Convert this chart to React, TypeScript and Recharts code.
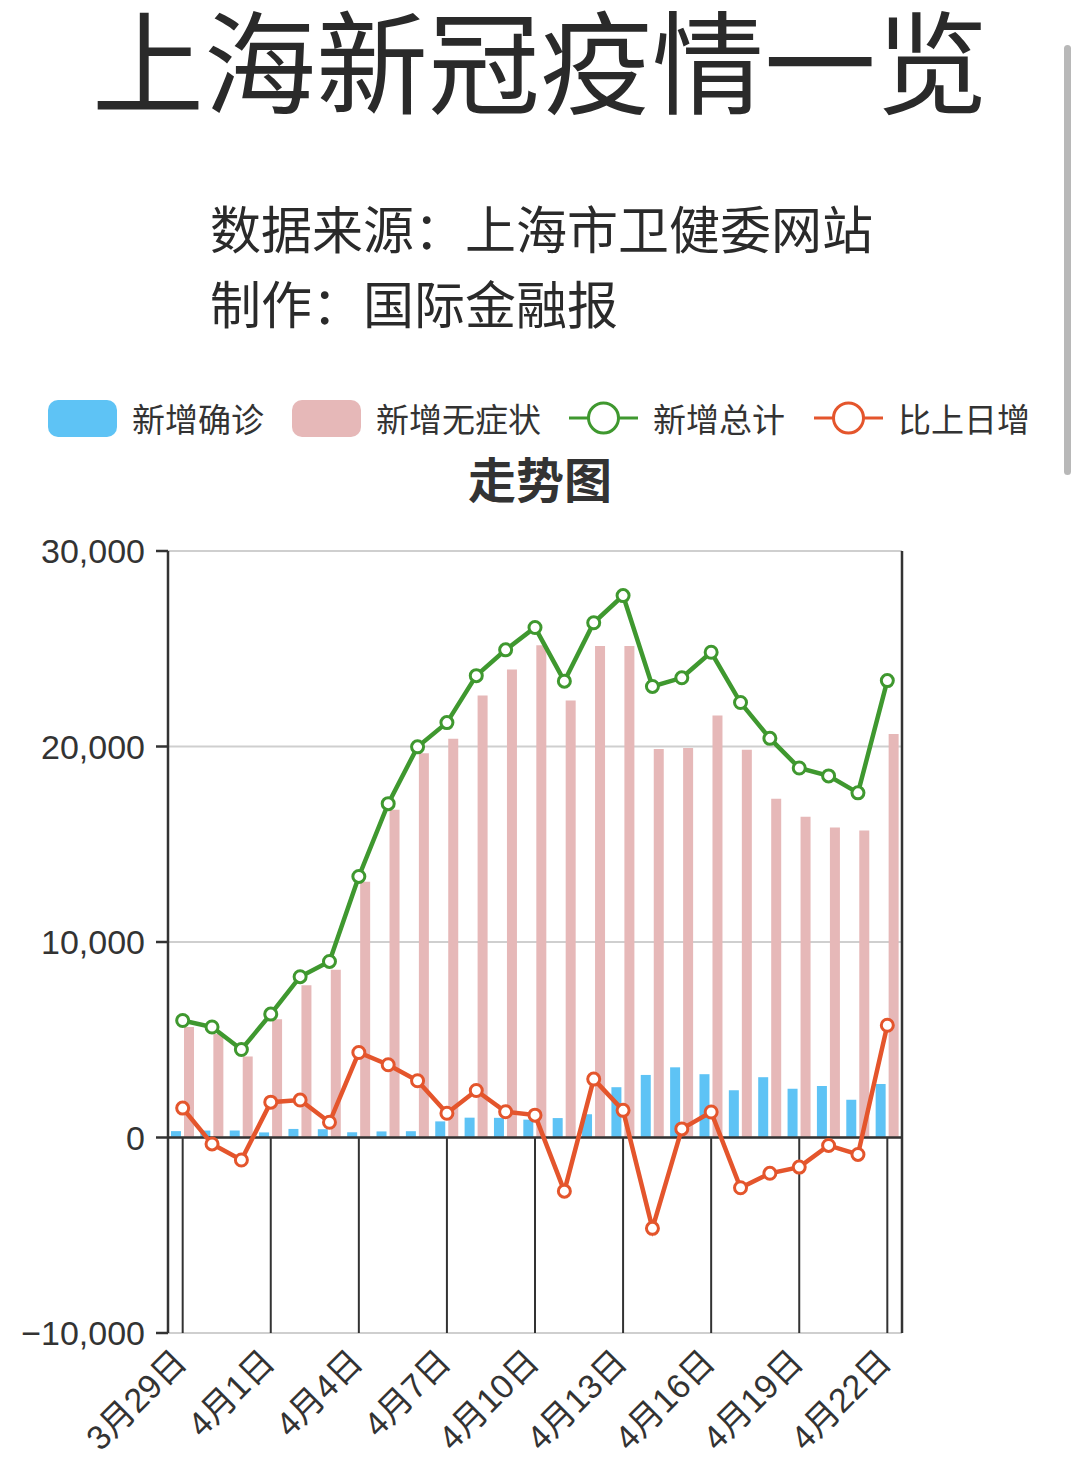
import React from 'react';
import { ComposedChart, Bar, Line, XAxis, YAxis, CartesianGrid, ReferenceLine } from 'recharts';

const dates = ['3月29日', '3月30日', '3月31日', '4月1日', '4月2日', '4月3日', '4月4日', '4月5日', '4月6日', '4月7日', '4月8日', '4月9日', '4月10日', '4月11日', '4月12日', '4月13日', '4月14日', '4月15日', '4月16日', '4月17日', '4月18日', '4月19日', '4月20日', '4月21日', '4月22日'];
const confirmed = [326, 355, 358, 260, 438, 425, 268, 311, 322, 824, 1015, 1006, 914, 994, 1189, 2573, 3200, 3590, 3238, 2417, 3084, 2494, 2634, 1931, 2736];
const asymptomatic = [5656, 5298, 4144, 6051, 7788, 8581, 13086, 16766, 19660, 20398, 22609, 23937, 25173, 22348, 25141, 25146, 19872, 19923, 21582, 19831, 17332, 16407, 15861, 15698, 20634];
const totals = [5982, 5653, 4502, 6311, 8226, 9006, 13354, 17077, 19982, 21222, 23624, 24943, 26087, 23342, 26330, 27719, 23072, 23513, 24820, 22248, 20416, 18901, 18495, 17629, 23370];
const changes = [1505, -329, -1151, 1809, 1915, 780, 4348, 3723, 2905, 1240, 2402, 1319, 1144, -2745, 2988, 1389, -4647, 441, 1307, -2572, -1832, -1515, -406, -866, 5741];
const yTicks = [-10000, 0, 10000, 20000, 30000];
const seriesNames = ['新增确诊', '新增无症状', '新增总计', '比上日增'];

const BLUE = '#5ec3f5';
const PINK = '#e6b8b8';
const GREEN = '#3f982f';
const RED = '#e4552c';
const INK = '#333333';
const CJK = "'Noto Sans CJK SC', 'Noto Sans', sans-serif";
const NUM = "'Liberation Sans', 'Noto Sans CJK SC', sans-serif";

const data = dates.map((d, i) => ({
  date: d,
  confirmed: confirmed[i],
  asymptomatic: asymptomatic[i],
  total: totals[i],
  change: changes[i],
}));

const markedDates = dates.filter((_, i) => i % 3 === 0);

const fmt = (v: number) => {
  const s = Math.abs(v).toLocaleString('en-US');
  return v < 0 ? '\u2212' + s : s;
};

const XTick = (props: any) => {
  const { x, y, payload } = props;
  const tx = x + 6;
  const ty = y + 31;
  return (
    <text
      x={tx}
      y={ty}
      transform={`rotate(-45, ${tx}, ${ty})`}
      textAnchor="end"
      fontSize={34}
      fill={INK}
      fontFamily={NUM}
    >
      {payload.value}
    </text>
  );
};

const LegendItem = ({ left, kind, color, label }: { left: number; kind: 'rect' | 'line'; color: string; label: string }) => (
  <div style={{ position: 'absolute', left, top: 398, height: 40, display: 'flex', alignItems: 'center' }}>
    <svg width={69} height={40} style={{ display: 'block' }}>
      {kind === 'rect' ? (
        <rect x={0} y={2} width={69} height={37} rx={10} ry={10} fill={color} />
      ) : (
        <g>
          <line x1={0} y1={20} x2={69} y2={20} stroke={color} strokeWidth={3} />
          <circle cx={34.5} cy={20} r={15} fill="#fff" stroke={color} strokeWidth={3} />
        </g>
      )}
    </svg>
    <span style={{ marginLeft: 15, fontSize: 33, color: INK, fontFamily: CJK, lineHeight: '40px', whiteSpace: 'nowrap' }}>{label}</span>
  </div>
);

export default function App() {
  return (
    <div style={{ position: 'absolute', left: 0, top: 0, width: 1080, height: 1471, background: '#fff', overflow: 'hidden' }}>
      <div style={{ position: 'absolute', left: 0, top: 1, width: 1080, textAlign: 'center', fontSize: 112, lineHeight: '112px', fontFamily: CJK, fontWeight: 400, color: '#2a2a2a', whiteSpace: 'nowrap' }}>
        上海新冠疫情一览
      </div>
      <div style={{ position: 'absolute', left: 210, top: 202, fontSize: 51, lineHeight: '51px', fontFamily: CJK, color: '#2a2a2a', whiteSpace: 'nowrap' }}>
        数据来源：上海市卫健委网站
      </div>
      <div style={{ position: 'absolute', left: 210, top: 277, fontSize: 51, lineHeight: '51px', fontFamily: CJK, color: '#2a2a2a', whiteSpace: 'nowrap' }}>
        制作：国际金融报
      </div>
      <div style={{ position: 'absolute', left: 1064, top: 45, width: 7, height: 430, borderRadius: 4, background: '#b8b8b8' }} />

      <LegendItem left={48} kind="rect" color={BLUE} label={seriesNames[0]} />
      <LegendItem left={292} kind="rect" color={PINK} label={seriesNames[1]} />
      <LegendItem left={569} kind="line" color={GREEN} label={seriesNames[2]} />
      <LegendItem left={814} kind="line" color={RED} label={seriesNames[3]} />

      <div style={{ position: 'absolute', left: 0, top: 453, width: 1080, textAlign: 'center', fontSize: 48, lineHeight: '48px', fontFamily: CJK, fontWeight: 700, color: INK }}>
        走势图
      </div>

      <div style={{ position: 'absolute', left: 0, top: 0 }}>
        <ComposedChart
          width={1080}
          height={1471}
          data={data}
          margin={{ top: 551, right: 0, bottom: 0, left: 0 }}
          barGap={3}
        >
          <CartesianGrid yAxisId="left" vertical={false} stroke="#cfcfcf" strokeWidth={2} />
          <XAxis
            dataKey="date"
            height={138}
            axisLine={false}
            tickLine={false}
            tickSize={0}
            tickMargin={0}
            interval={2}
            tick={<XTick />}
          />
          <YAxis
            yAxisId="left"
            width={168}
            domain={[-10000, 30000]}
            ticks={yTicks}
            tickFormatter={fmt}
            tickSize={12}
            tickMargin={11}
            axisLine={{ stroke: INK, strokeWidth: 2.5 }}
            tickLine={{ stroke: INK, strokeWidth: 2.5 }}
            tick={{ fontSize: 34, fill: INK, fontFamily: NUM }}
          />
          <YAxis
            yAxisId="right"
            orientation="right"
            width={178}
            domain={[-10000, 30000]}
            ticks={yTicks}
            tickFormatter={fmt}
            tickSize={12}
            tickMargin={11}
            axisLine={{ stroke: INK, strokeWidth: 2.5 }}
            tickLine={{ stroke: INK, strokeWidth: 2.5 }}
            tick={{ fontSize: 34, fill: INK, fontFamily: NUM }}
          />
          {markedDates.map((d) => (
            <ReferenceLine
              key={d}
              yAxisId="left"
              segment={[{ x: d, y: 0 }, { x: d, y: -10000 }]}
              stroke={INK}
              strokeWidth={2}
            />
          ))}
          <Bar yAxisId="left" dataKey="confirmed" name={seriesNames[0]} fill={BLUE} barSize={10} isAnimationActive={false} />
          <Bar yAxisId="left" dataKey="asymptomatic" name={seriesNames[1]} fill={PINK} barSize={10} isAnimationActive={false} />
          <ReferenceLine yAxisId="left" y={0} stroke={INK} strokeWidth={2.5} />
          <Line
            yAxisId="left"
            type="linear"
            dataKey="total"
            name={seriesNames[2]}
            stroke={GREEN}
            strokeWidth={4.5}
            dot={{ r: 6, fill: '#fff', stroke: GREEN, strokeWidth: 3 }}
            isAnimationActive={false}
          />
          <Line
            yAxisId="left"
            type="linear"
            dataKey="change"
            name={seriesNames[3]}
            stroke={RED}
            strokeWidth={4.5}
            dot={{ r: 6, fill: '#fff', stroke: RED, strokeWidth: 3 }}
            isAnimationActive={false}
          />
        </ComposedChart>
      </div>
    </div>
  );
}
